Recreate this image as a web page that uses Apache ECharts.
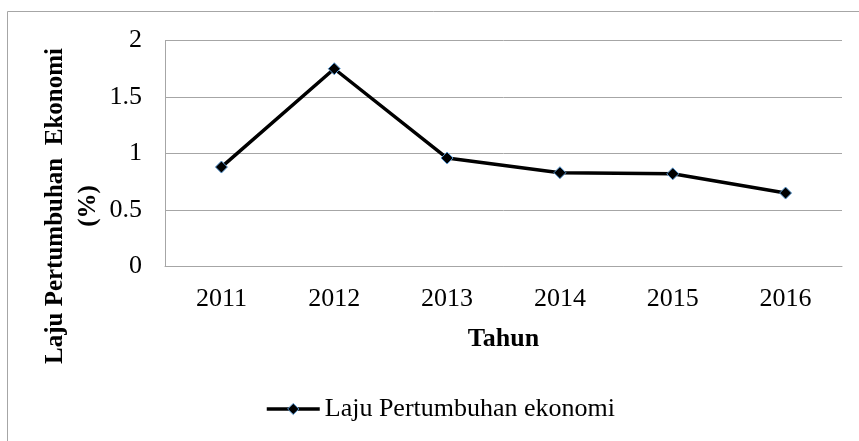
<!DOCTYPE html>
<html>
<head>
<meta charset="utf-8">
<script src="https://cdn.jsdelivr.net/npm/echarts@6/dist/echarts.min.js"></script>
<style>
  html, body { margin: 0; padding: 0; background: #fff; }
  #chart { width: 859px; height: 441px; }
</style>
</head>
<body>
<div id="chart"></div>
<script>
const categories = ['2011', '2012', '2013', '2014', '2015', '2016'];
const values = [0.88, 1.75, 0.96, 0.83, 0.82, 0.65];
const seriesName = 'Laju Pertumbuhan ekonomi';
const xTitle = 'Tahun';
const yTitle = 'Laju Pertumbuhan  Ekonomi\n(%)';

const FONT = '"Liberation Serif", "Times New Roman", serif';

const chart = echarts.init(document.getElementById('chart'), null, { renderer: 'canvas' });
chart.setOption({
  backgroundColor: '#ffffff',
  animation: false,
  textStyle: { fontFamily: FONT, color: '#000' },
  graphic: [
    {
      type: 'rect',
      silent: true,
      shape: { x: 7.5, y: 11.5, width: 1000, height: 1000 },
      style: { fill: 'none', stroke: '#a6a6a6', lineWidth: 1 }
    },
    {
      type: 'text',
      silent: true,
      x: 72,
      y: 206,
      rotation: Math.PI / 2,
      style: {
        text: yTitle,
        font: 'bold 25px ' + FONT,
        fill: '#000',
        align: 'center',
        verticalAlign: 'middle',
        lineHeight: 33
      }
    }
  ],
  grid: { left: 165, right: 17, top: 40.5, bottom: 174.5, containLabel: false },
  legend: {
    left: 260,
    top: 391,
    itemWidth: 53,
    itemHeight: 14,
    itemStyle: { borderWidth: 1 },
    lineStyle: { width: 3.5 },
    textStyle: { fontFamily: FONT, fontSize: 26, color: '#000' },
    data: [seriesName]
  },
  xAxis: {
    type: 'category',
    data: categories,
    boundaryGap: true,
    name: xTitle,
    nameLocation: 'middle',
    nameGap: 60,
    nameTextStyle: { fontFamily: FONT, fontSize: 26, fontWeight: 'bold', color: '#000' },
    axisLine: { show: true, lineStyle: { color: '#a6a6a6', width: 1 } },
    axisTick: { show: false },
    axisLabel: { margin: 20, fontFamily: FONT, fontSize: 26, color: '#000' },
    splitLine: { show: false }
  },
  yAxis: {
    type: 'value',
    min: 0,
    max: 2,
    interval: 0.5,
    axisLine: { show: true, lineStyle: { color: '#a6a6a6', width: 1 } },
    axisTick: { show: false },
    axisLabel: { margin: 23, fontFamily: FONT, fontSize: 26, color: '#000' },
    splitLine: { show: true, lineStyle: { color: '#a6a6a6', width: 1 } }
  },
  series: [
    {
      name: seriesName,
      type: 'line',
      data: values,
      symbol: 'diamond',
      symbolSize: 12,
      lineStyle: { color: '#000', width: 3.5 },
      itemStyle: { color: '#000', borderColor: '#5b9bd5', borderWidth: 1 }
    }
  ]
});
</script>
</body>
</html>
